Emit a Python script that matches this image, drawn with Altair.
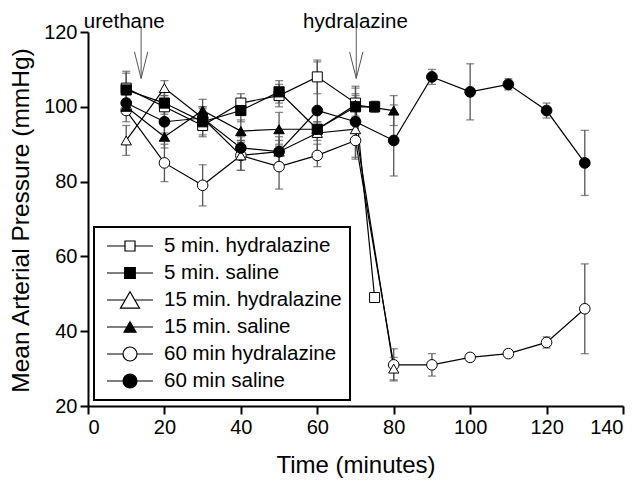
import altair as alt
import pandas as pd

FONT = "Liberation Sans"

series_names = ["5 min. hydralazine", "5 min. saline", "15 min. hydralazine",
                "15 min. saline", "60 min hydralazine", "60 min saline"]

t_5 = [10, 20, 30, 40, 50, 60, 70, 75]
t_15 = [10, 20, 30, 40, 50, 60, 70, 80]
t_60 = [10, 20, 30, 40, 50, 60, 70, 80, 90, 100, 110, 120, 130]

hyd5_mean = [105, 100, 95, 101, 103, 108, 101, 49]
hyd5_sem = [4, 3, 3, 2.5, 3, 4.5, 4, 1]
sal5_mean = [104.5, 101, 96, 99, 104, 94, 100, 100]
sal5_sem = [5, 3, 3.5, 3, 3, 2, 3, 1.5]
hyd15_mean = [91, 105, 97, 87, 88, 93, 94, 30]
hyd15_sem = [4, 2, 3, 4, 4, 2, 3, 3]
sal15_mean = [100, 92, 99, 93.5, 94, 94, 100.5, 99]
sal15_sem = [2, 3, 3, 3, 4.5, 2, 3, 4]
hyd60_mean = [99, 85, 79, 87, 84, 87, 91, 31, 31, 33, 34, 37, 46]
hyd60_sem = [3, 5, 5.5, 4, 6, 3, 5, 4.3, 3, 1, 1, 1.5, 12]
sal60_mean = [101, 96, 97, 89, 88, 99, 96, 91, 108, 104, 106, 99, 85]
sal60_sem = [3, 3, 3, 3, 3, 13, 9.5, 9.5, 2, 7.5, 1.5, 2, 8.7]

# annotation arrows / labels
arrow_x = [13.9, 70.2]
arrow_top = [121.3, 121.3]
arrow_tip = [107.6, 107.6]
arrow_head_dx = 1.75
arrow_head_y = 114.7
note_text = ["urethane", "hydralazine"]
note_x = [9.5, 70.0]
note_y = [121.1, 121.1]

rows = []
def add(name, ts, means, sems):
    for t, m, s in zip(ts, means, sems):
        rows.append({"series": name, "t": t, "mean": m, "lo": m - s, "hi": m + s})

# drawing order (later on top)
add(series_names[0], t_5, hyd5_mean, hyd5_sem)
add(series_names[4], t_60, hyd60_mean, hyd60_sem)
add(series_names[2], t_15, hyd15_mean, hyd15_sem)
add(series_names[1], t_5, sal5_mean, sal5_sem)
add(series_names[3], t_15, sal15_mean, sal15_sem)
add(series_names[5], t_60, sal60_mean, sal60_sem)
df = pd.DataFrame(rows)

seg = []
for ax, top, tip in zip(arrow_x, arrow_top, arrow_tip):
    seg.append({"x": ax, "y": top, "x2": ax, "y2": tip})
    seg.append({"x": ax - arrow_head_dx, "y": arrow_head_y, "x2": ax, "y2": tip})
    seg.append({"x": ax + arrow_head_dx, "y": arrow_head_y, "x2": ax, "y2": tip})
seg_df = pd.DataFrame(seg)
note_df = pd.DataFrame({"label": note_text, "x": note_x, "y": note_y})

xs = alt.Scale(domain=[0, 140], nice=False, zero=False)
ys = alt.Scale(domain=[20, 120], nice=False, zero=False)

X = alt.X("t:Q", scale=xs, axis=alt.Axis(values=list(range(0, 141, 20)), title="Time (minutes)",
                                        labelFlush=7, titleY=59, titleBaseline="middle"))
Y = alt.Y("mean:Q", scale=ys, axis=alt.Axis(values=list(range(20, 121, 20)),
                                           title="Mean Arterial Pressure (mmHg)",
                                           titleX=-67, titleY=188, titleAlign="center",
                                           titleBaseline="middle", titleAngle=-90,
                                           titleFontSize=24.5))

base = alt.Chart(df)

err = base.mark_rule(color="#555555", strokeWidth=1.3).encode(
    x=alt.X("t:Q", scale=xs), y=alt.Y("lo:Q", scale=ys), y2="hi:Q")
cap_lo = base.mark_tick(color="#555555", orient="horizontal", size=8, thickness=1.3).encode(
    x=alt.X("t:Q", scale=xs), y=alt.Y("lo:Q", scale=ys))
cap_hi = base.mark_tick(color="#555555", orient="horizontal", size=8, thickness=1.3).encode(
    x=alt.X("t:Q", scale=xs), y=alt.Y("hi:Q", scale=ys))

lines = base.mark_line(color="black", strokeWidth=1.2).encode(
    x=X, y=Y, detail="series:N", order="t:Q")

pts = base.mark_point(filled=True, stroke="black", strokeWidth=1, opacity=1).encode(
    x=alt.X("t:Q", scale=xs), y=alt.Y("mean:Q", scale=ys),
    shape=alt.Shape("series:N", scale=alt.Scale(domain=series_names,
        range=["square", "square", "triangle-up", "triangle-up", "circle", "circle"]), legend=None),
    fill=alt.Fill("series:N", scale=alt.Scale(domain=series_names,
        range=["white", "black", "white", "black", "white", "black"]), legend=None),
    size=alt.Size("series:N", scale=alt.Scale(domain=series_names,
        range=[100, 115, 370, 120, 140, 140]), legend=None),
)

legend_paths = [
    "M-2.3,0H-0.5M0.5,0H2.3M-0.5,-0.5H0.5V0.5H-0.5Z",
    "M-2.3,0H-0.53M0.53,0H2.3M-0.53,-0.53H0.53V0.53H-0.53Z",
    "M-2.3,0H-0.47M0.47,0H2.3M0,-0.82L0.95,0.82H-0.95Z",
    "M-2.3,0H-0.3M0.3,0H2.3M0,-0.52L0.6,0.52H-0.6Z",
    "M-2.3,0H-0.7M0.7,0H2.3M0.7,0A0.7,0.7,0,1,1,-0.7,0A0.7,0.7,0,1,1,0.7,0Z",
    "M-2.3,0H-0.7M0.7,0H2.3M0.7,0A0.7,0.7,0,1,1,-0.7,0A0.7,0.7,0,1,1,0.7,0Z",
]
leg = dict(orient="none", legendX=6, legendY=195, title=None, symbolSize=400,
           symbolOffset=17, labelOffset=23, rowPadding=5, padding=8,
           labelFont=FONT, labelFontSize=20.5, labelColor="black", labelLimit=400,
           strokeColor="black", symbolStrokeColor="black", symbolStrokeWidth=1.2)
legend_layer = base.mark_point(filled=True, stroke="black", strokeWidth=1.2, opacity=1).encode(
    x=alt.X("t:Q", scale=xs), y=alt.Y("mean:Q", scale=ys),
    shape=alt.Shape("series:N", scale=alt.Scale(domain=series_names, range=legend_paths),
                    legend=alt.Legend(**leg)),
    fill=alt.Fill("series:N", scale=alt.Scale(domain=series_names,
        range=["white", "black", "white", "black", "white", "black"]),
                  legend=alt.Legend(**leg)),
    stroke=alt.Stroke("series:N", scale=alt.Scale(domain=series_names,
        range=["black"] * 6), legend=alt.Legend(**leg)),
).transform_filter("datum.t < 0")

arrows = alt.Chart(seg_df).mark_rule(color="#555555", strokeWidth=1).encode(
    x=alt.X("x:Q", scale=xs), y=alt.Y("y:Q", scale=ys), x2="x2:Q", y2="y2:Q")
notes = alt.Chart(note_df).mark_text(align="center", baseline="alphabetic", font=FONT,
                                     fontSize=20.5, color="black").encode(
    x=alt.X("x:Q", scale=xs), y=alt.Y("y:Q", scale=ys), text="label:N")

chart = alt.layer(lines, err, cap_lo, cap_hi, pts, legend_layer, arrows, notes).resolve_scale(
    shape="independent", fill="independent", size="independent", stroke="independent"
).properties(
    width=535, height=374,
    padding={"left": 80, "top": 24, "right": 9, "bottom": 74},
    autosize=alt.AutoSizeParams(type="none"),
).configure_view(stroke=None).configure_axis(
    grid=False, domainColor="black", domainWidth=2, tickColor="black", tickWidth=2, tickSize=8,
    labelFont=FONT, labelFontSize=20, labelColor="black", labelPadding=3,
    titleFont=FONT, titleFontSize=24, titleFontWeight="normal", titleColor="black",
).configure_legend(strokeWidth=2)

chart.save("out.html", embed_options={"renderer": "svg", "actions": False})
